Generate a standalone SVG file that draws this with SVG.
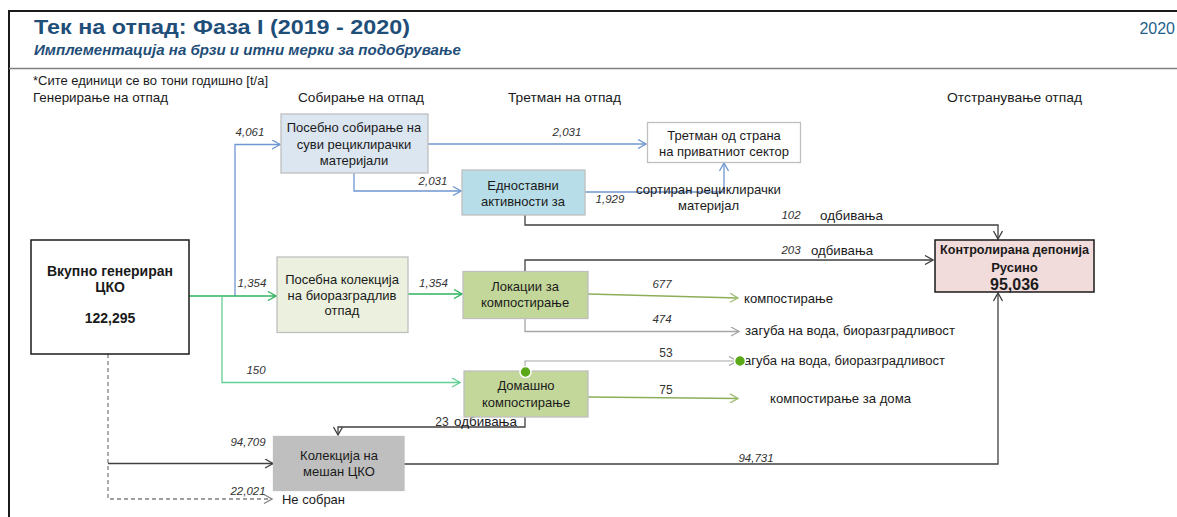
<svg xmlns="http://www.w3.org/2000/svg" width="1177" height="517" viewBox="0 0 1177 517">
<style>
text{font-family:"Liberation Sans",Arial,sans-serif;fill:#1a1a1a}
.hd{font-size:13.5px}
.nt{font-size:13px;text-anchor:middle}
.bt{font-size:14px;font-weight:bold;text-anchor:middle}
.lb{font-size:11.5px;font-style:italic;text-anchor:middle;fill:#333}
.lu{font-size:12px;text-anchor:middle;fill:#333}
.tx{font-size:13px}
.box{stroke:#bfbfbf;stroke-width:1.3}
.c{fill:none;stroke-width:1.3}
.blue{stroke:#6f97cf}
.blk{stroke:#404040}
.grn{stroke:#2eb55e}
.lgr{stroke:#62cf93}
.olv{stroke:#8cae5a}
.gry{stroke:#a6a6a6}
.dsh{stroke:#808080;stroke-dasharray:4 3}
.dot{fill:#5aa818;stroke:#fff;stroke-width:1.5}
</style>
<defs>
<marker id="mb" viewBox="0 0 10 10" refX="9" refY="5" markerWidth="10" markerHeight="10" markerUnits="userSpaceOnUse" orient="auto"><path d="M1,0.5 L9,5 L1,9.5" fill="none" stroke="#6f97cf" stroke-width="1.3"/></marker>
<marker id="mk" viewBox="0 0 10 10" refX="9" refY="5" markerWidth="10" markerHeight="10" markerUnits="userSpaceOnUse" orient="auto"><path d="M1,0.5 L9,5 L1,9.5" fill="none" stroke="#404040" stroke-width="1.3"/></marker>
<marker id="mg" viewBox="0 0 10 10" refX="9" refY="5" markerWidth="10" markerHeight="10" markerUnits="userSpaceOnUse" orient="auto"><path d="M1,0.5 L9,5 L1,9.5" fill="none" stroke="#2eb55e" stroke-width="1.3"/></marker>
<marker id="ml" viewBox="0 0 10 10" refX="9" refY="5" markerWidth="10" markerHeight="10" markerUnits="userSpaceOnUse" orient="auto"><path d="M1,0.5 L9,5 L1,9.5" fill="none" stroke="#62cf93" stroke-width="1.3"/></marker>
<marker id="mo" viewBox="0 0 10 10" refX="9" refY="5" markerWidth="10" markerHeight="10" markerUnits="userSpaceOnUse" orient="auto"><path d="M1,0.5 L9,5 L1,9.5" fill="none" stroke="#9fbd74" stroke-width="1.3"/></marker>
<marker id="mr" viewBox="0 0 10 10" refX="9" refY="5" markerWidth="10" markerHeight="10" markerUnits="userSpaceOnUse" orient="auto"><path d="M1,0.5 L9,5 L1,9.5" fill="none" stroke="#a6a6a6" stroke-width="1.3"/></marker>
<marker id="md" viewBox="0 0 10 10" refX="9" refY="5" markerWidth="10" markerHeight="10" markerUnits="userSpaceOnUse" orient="auto"><path d="M1,0.5 L9,5 L1,9.5" fill="none" stroke="#808080" stroke-width="1.2"/></marker>
</defs>
<rect width="1177" height="517" fill="#fff"/>
<g id="frame">
<line x1="8" y1="11" x2="1177" y2="11" stroke="#1a1a1a" stroke-width="2"/>
<line x1="9" y1="11" x2="9" y2="517" stroke="#1a1a1a" stroke-width="2"/>
<line x1="9" y1="68.5" x2="1177" y2="68.5" stroke="#7f7f7f" stroke-width="1.3"/>
</g>
<g id="header">
<text x="34" y="34" textLength="376" lengthAdjust="spacingAndGlyphs" style="font-size:21px;font-weight:bold;fill:#1f4e79">Тек на отпад: Фаза I (2019 - 2020)</text>
<text x="34" y="55" textLength="427" lengthAdjust="spacingAndGlyphs" style="font-size:14.5px;font-weight:bold;font-style:italic;fill:#1f4e79">Имплементација на брзи и итни мерки за подобрување</text>
<text x="1175" y="34" style="font-size:16px;fill:#1f5f8b;text-anchor:end">2020</text>
<text x="33" y="85" textLength="235" lengthAdjust="spacingAndGlyphs" style="font-size:12.5px">*Сите единици се во тони годишно [t/a]</text>
<text x="33" y="102" class="hd" textLength="135" lengthAdjust="spacingAndGlyphs">Генерирање на отпад</text>
<text x="298" y="102" class="hd" textLength="126" lengthAdjust="spacingAndGlyphs">Собирање на отпад</text>
<text x="508" y="102" class="hd" textLength="113" lengthAdjust="spacingAndGlyphs">Третман на отпад</text>
<text x="947" y="102" class="hd" textLength="135" lengthAdjust="spacingAndGlyphs">Отстранување отпад</text>
</g>
<g id="connectors">
<path class="c blue" d="M235,296 V144.5 H280" marker-end="url(#mb)"/>
<path class="c blue" d="M428,144 H646" marker-end="url(#mb)"/>
<path class="c blue" d="M354,173 V191 H461" marker-end="url(#mb)"/>
<path class="c blue" d="M585,192 H724 V163" marker-end="url(#mb)"/>
<path class="c blk" d="M525,215 V225 H998 V239" marker-end="url(#mk)"/>
<path class="c blk" d="M525,271 V260 H933" marker-end="url(#mk)"/>
<path class="c blk" d="M525,417 V427 H338 V435" marker-end="url(#mk)"/>
<path class="c blk" d="M404,464 H998 V293" marker-end="url(#mk)"/>
<path class="c dsh" d="M108,354 V499 H272" marker-end="url(#md)"/>
<path class="c blk" d="M108,463.5 H273" marker-end="url(#mk)"/>
<path class="c grn" d="M187,296 H276" marker-end="url(#mg)"/>
<path class="c lgr" d="M222,296 V382.5 H460" marker-end="url(#ml)"/>
<path class="c grn" d="M408,294 H462" marker-end="url(#mg)"/>
<path class="c olv" d="M588,294 L738,298" marker-end="url(#mo)"/>
<path class="c olv" d="M588,397 L738,398.5" marker-end="url(#mo)"/>
<path class="c gry" d="M525,318 V331.5 H739" marker-end="url(#mr)"/>
<path class="c gry" style="stroke-width:1.1" d="M525,371 V361 H737" marker-end="url(#mr)"/>
</g>
<g id="labels">
<text x="250" y="136" class="lb">4,061</text>
<text x="567" y="136" class="lb">2,031</text>
<text x="433" y="185" class="lb">2,031</text>
<text x="610" y="203" class="lb">1,929</text>
<text x="708.5" y="193.5" class="nt" textLength="145" lengthAdjust="spacingAndGlyphs">сортиран рециклирачки</text>
<text x="708.5" y="209.5" class="nt">материјал</text>
<text x="791" y="219" class="lb">102</text>
<text x="820" y="219.5" class="tx" textLength="63" lengthAdjust="spacingAndGlyphs">одбивања</text>
<text x="791" y="254" class="lb">203</text>
<text x="811" y="255" class="tx" textLength="62" lengthAdjust="spacingAndGlyphs">одбивања</text>
<text x="252" y="287" class="lb">1,354</text>
<text x="433.5" y="287" class="lb">1,354</text>
<text x="662" y="288" class="lb">677</text>
<text x="744" y="302.5" class="tx" textLength="89" lengthAdjust="spacingAndGlyphs">компостирање</text>
<text x="662" y="323" class="lb">474</text>
<text x="745" y="335" class="tx" textLength="210" lengthAdjust="spacingAndGlyphs">загуба на вода, биоразградливост</text>
<text x="666" y="357" class="lu">53</text>
<text x="738" y="365" style="font-size:12.5px" textLength="207" lengthAdjust="spacingAndGlyphs">загуба на вода, биоразградливост</text>
<text x="256" y="374" class="lb">150</text>
<text x="666" y="394" class="lu">75</text>
<text x="770" y="402.5" class="tx" textLength="141" lengthAdjust="spacingAndGlyphs">компостирање за дома</text>
<text x="442" y="426" class="lu">23</text>
<text x="454" y="426" class="tx" textLength="63" lengthAdjust="spacingAndGlyphs">одбивања</text>
<text x="248" y="446" class="lb">94,709</text>
<text x="756" y="462" class="lb">94,731</text>
<text x="248" y="495" class="lb">22,021</text>
<text x="282" y="504" class="tx" textLength="63" lengthAdjust="spacingAndGlyphs">Не собран</text>
</g>
<g id="n-total">
<rect x="31" y="240" width="158" height="114" fill="#fff" stroke="#1a1a1a" stroke-width="1.5"/>
<text x="110" y="276" class="bt">Вкупно генериран</text>
<text x="110" y="292" class="bt">ЦКО</text>
<text x="110" y="323" class="bt">122,295</text>
</g>
<g id="n-dry">
<rect class="box" x="281" y="114" width="147" height="59" fill="#dce6f1"/>
<text x="354" y="132" class="nt">Посебно собирање на</text>
<text x="354" y="148.5" class="nt">суви рециклирачки</text>
<text x="354" y="164.5" class="nt">материјали</text>
</g>
<g id="n-simple">
<rect class="box" x="462" y="170" width="123" height="45" fill="#b7dee8"/>
<text x="523" y="189.5" class="nt">Едноставни</text>
<text x="523" y="205.5" class="nt">активности за</text>
</g>
<g id="n-private">
<rect class="box" x="647.5" y="122.5" width="153" height="40" fill="#fff"/>
<text x="724" y="139.5" class="nt">Третман од страна</text>
<text x="724" y="156" class="nt">на приватниот сектор</text>
</g>
<g id="n-bio">
<rect class="box" x="277" y="257" width="131" height="75.5" fill="#ebf1de"/>
<text x="342" y="283.5" class="nt">Посебна колекција</text>
<text x="342" y="299.5" class="nt">на биоразградлив</text>
<text x="342" y="315" class="nt">отпад</text>
</g>
<g id="n-compost">
<rect class="box" x="463" y="271.5" width="125" height="47" fill="#c4d79b"/>
<text x="525" y="290.5" class="nt">Локации за</text>
<text x="525" y="306.5" class="nt">компостирање</text>
</g>
<g id="n-home">
<rect class="box" x="464" y="371" width="124" height="46" fill="#c4d79b"/>
<text x="526" y="390" class="nt">Домашно</text>
<text x="526" y="407" class="nt">компостирање</text>
</g>
<g id="n-mixed">
<rect class="box" x="273.5" y="436.5" width="130.5" height="54" fill="#bfbfbf"/>
<text x="339" y="460" class="nt">Колекција на</text>
<text x="339" y="476" class="nt">мешан ЦКО</text>
</g>
<g id="n-landfill">
<rect x="935" y="240" width="159" height="52" fill="#f2dcdb" stroke="#1a1a1a" stroke-width="1.5"/>
<text x="1014.5" y="253.5" class="bt" style="font-size:12.5px" textLength="149" lengthAdjust="spacingAndGlyphs">Контролирана депонија</text>
<text x="1014.5" y="272" class="bt" style="font-size:13px">Русино</text>
<text x="1014.5" y="290" class="bt" style="font-size:16px">95,036</text>
</g>
<g id="connector-dots">
<circle class="dot" cx="740" cy="361" r="5.5"/>
<circle class="dot" cx="525.5" cy="372" r="5.5"/>
</g>
</svg>
